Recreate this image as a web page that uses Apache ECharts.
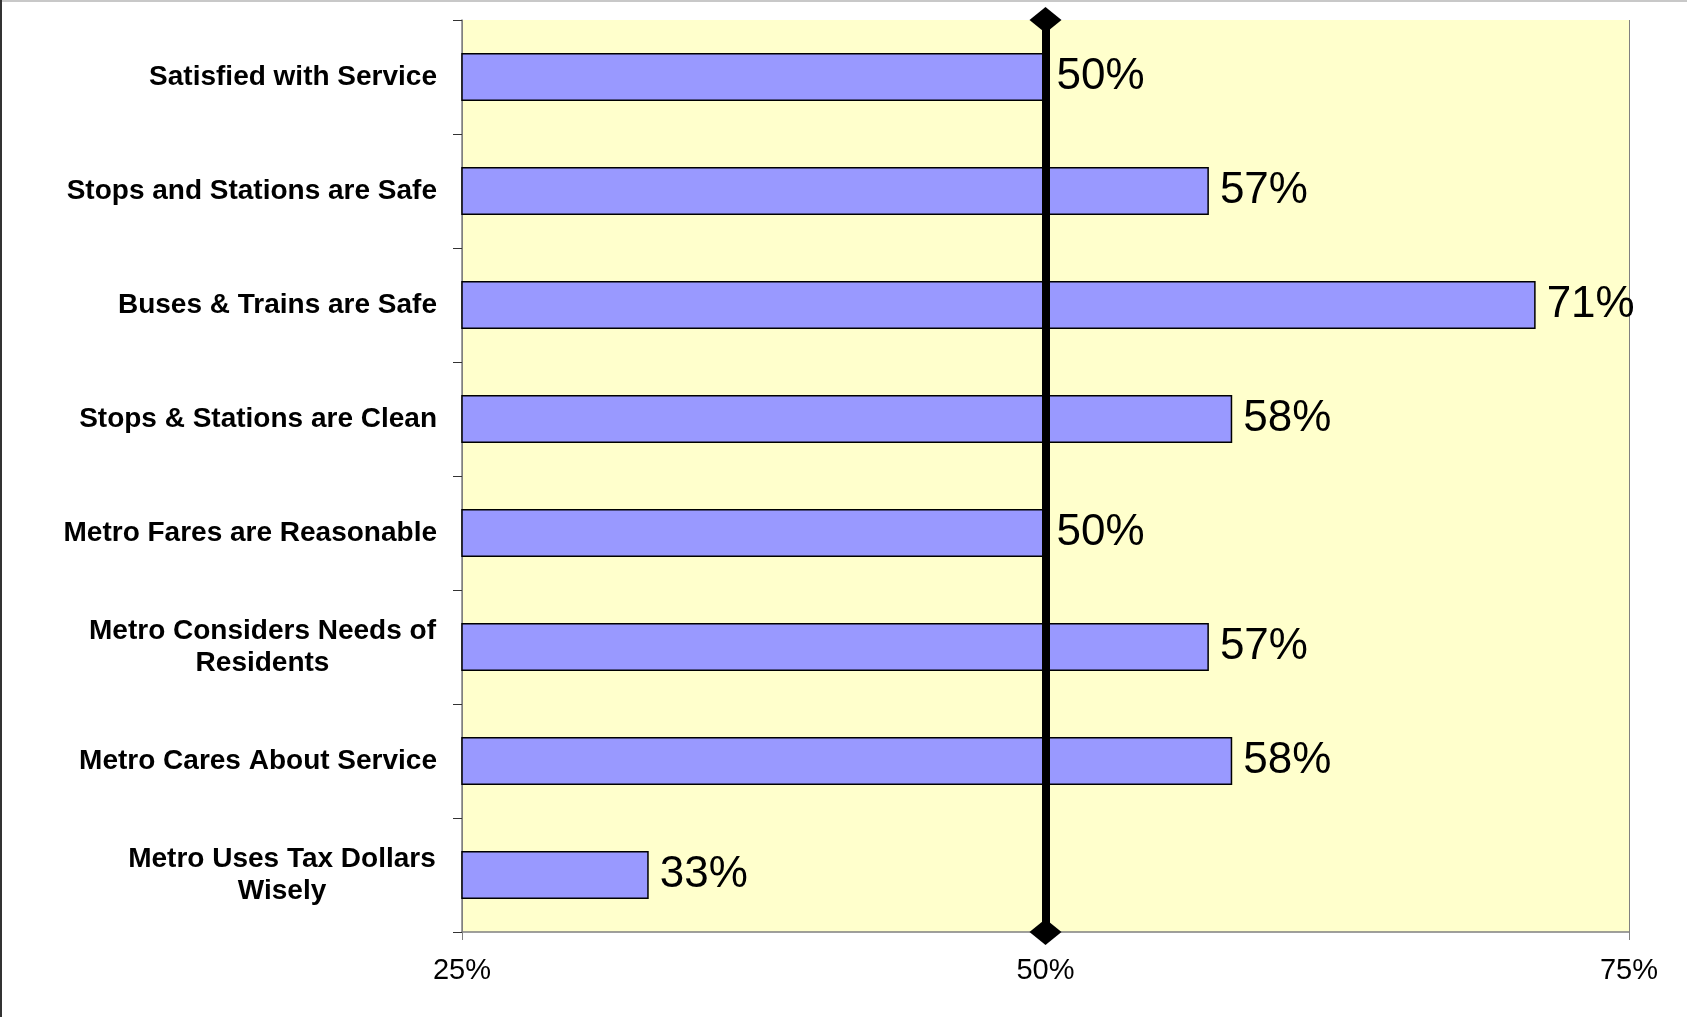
<!DOCTYPE html>
<html>
<head>
<meta charset="utf-8">
<script src="https://cdn.jsdelivr.net/npm/echarts@6/dist/echarts.min.js"></script>
<style>
  html, body { margin: 0; padding: 0; background: #fff; }
  #main { width: 1687px; height: 1017px; }
</style>
</head>
<body>
<div id="main"></div>
<script>
var categories = [
  'Satisfied with Service',
  'Stops and Stations are Safe',
  'Buses & Trains are Safe',
  'Stops & Stations are Clean',
  'Metro Fares are Reasonable',
  'Metro Considers Needs of\nResidents',
  'Metro Cares About Service',
  'Metro Uses Tax Dollars\nWisely'
];
var values = [50, 57, 71, 58, 50, 57, 58, 33];
var refLine = 50;
var axisMin = 25, axisMax = 75, axisStep = 25;

var labelSize = 28;
var labelFont = 'bold ' + labelSize + 'px Arial, "Liberation Sans", sans-serif';

// wrapped labels: center the lines inside a block as wide as the longest line
var ctx = document.createElement('canvas').getContext('2d');
ctx.font = labelFont;
var rich = {};
categories.forEach(function (c, i) {
  var w = 0;
  c.split('\n').forEach(function (l) { w = Math.max(w, ctx.measureText(l).width); });
  rich['c' + i] = { width: Math.ceil(w) + 2, align: 'center', fontWeight: 'bold', fontSize: labelSize, lineHeight: 32, color: '#000' };
});

var chart = echarts.init(document.getElementById('main'));
var option = {
  backgroundColor: '#fff',
  animation: false,
  textStyle: { fontFamily: 'Arial, "Liberation Sans", sans-serif' },
  grid: {
    left: 462, right: 58, top: 20, bottom: 85,
    show: true,
    backgroundColor: '#FFFFCC',
    borderWidth: 0
  },
  xAxis: {
    type: 'value',
    min: axisMin,
    max: axisMax,
    interval: axisStep,
    axisLine: { show: true, lineStyle: { color: '#808080', width: 1.5 } },
    axisTick: { show: true, length: 8, lineStyle: { color: '#808080' } },
    axisLabel: { formatter: '{value}%', fontSize: 29, color: '#000', margin: 24 },
    splitLine: { show: true, lineStyle: { color: '#808080', width: 1 } }
  },
  yAxis: {
    type: 'category',
    inverse: true,
    data: categories,
    axisLine: { show: true, lineStyle: { color: '#808080', width: 1.5 } },
    axisTick: { show: true, length: 9, lineStyle: { color: '#333' } },
    axisLabel: {
      margin: 25,
      color: '#000',
      fontSize: labelSize,
      fontWeight: 'bold',
      lineHeight: 32,
      formatter: function (val, idx) {
        if (val.indexOf('\n') < 0) return val;
        return val.split('\n').map(function (l) { return '{c' + idx + '|' + l + '}'; }).join('\n');
      },
      rich: rich
    },
    splitLine: { show: false }
  },
  series: [{
    type: 'bar',
    data: values,
    barCategoryGap: '58%',
    itemStyle: { color: '#9999FF', borderColor: '#000', borderWidth: 1.5 },
    label: {
      show: true,
      position: 'right',
      distance: 11,
      formatter: '{c}%',
      fontSize: 44,
      color: '#000'
    },
    markLine: {
      silent: true,
      symbol: ['diamond', 'diamond'],
      symbolSize: [32, 26],
      label: { show: false },
      lineStyle: { color: '#000', width: 8, type: 'solid' },
      data: [{ xAxis: refLine }]
    }
  }],
  graphic: [
    { type: 'line', shape: { x1: 0, y1: 1, x2: 1687, y2: 1 }, style: { stroke: '#c8c8c8', lineWidth: 2 } },
    { type: 'line', shape: { x1: 1, y1: 0, x2: 1, y2: 1017 }, style: { stroke: '#333', lineWidth: 2 } }
  ]
};
chart.setOption(option);
</script>
</body>
</html>
